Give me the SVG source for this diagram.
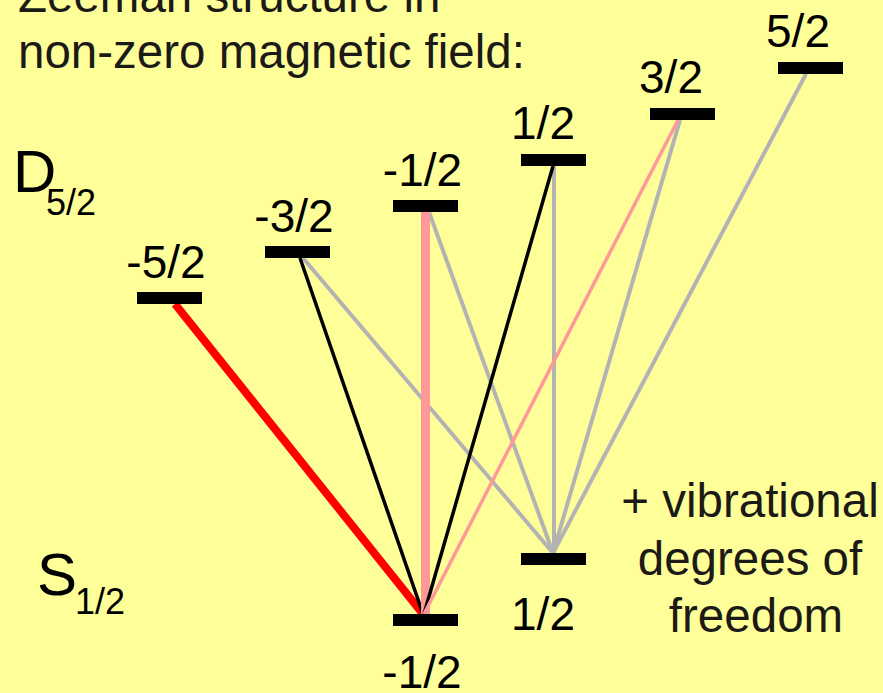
<svg xmlns="http://www.w3.org/2000/svg" width="883" height="693" viewBox="0 0 883 693">
<style>
text{font-family:"Liberation Sans",Arial,sans-serif;fill:#000}
.t{font-size:47.5px;fill:#1c1a17}
.lab{font-size:46px;text-anchor:middle}
.big{font-size:60px}
.sub{font-size:36px}
.bar{fill:#000}
.g{stroke:#B3B3B3;stroke-width:4;fill:none}
.k{stroke:#000;stroke-width:3.5;fill:none}
.p{stroke:#FF9999;fill:none}
</style>
<rect x="0" y="0" width="883" height="693" fill="#FFFF99"/>
<g id="title">
<text class="t" x="18" y="12">Zeeman structure in</text>
<text class="t" x="18" y="68">non-zero magnetic field:</text>
</g>
<g id="connectors">
<line class="g" x1="303" y1="258" x2="553" y2="553"/>
<line class="g" x1="429" y1="212" x2="553" y2="553"/>
<line class="g" x1="554" y1="166" x2="554" y2="553"/>
<line class="g" x1="680" y1="120" x2="553" y2="553"/>
<line class="g" x1="806" y1="74" x2="553" y2="553"/>
<line x1="175" y1="304" x2="423" y2="614" stroke="#FF0000" stroke-width="8"/>
<line class="k" x1="300" y1="258" x2="423" y2="614"/>
<line class="p" x1="425.5" y1="212" x2="425.5" y2="614" stroke-width="9"/>
<line class="k" x1="553" y1="166" x2="424" y2="614"/>
<line class="p" x1="678" y1="120" x2="424" y2="614" stroke-width="3.5"/>
</g>
<g id="D52">
<text class="big" x="13" y="192">D</text>
<text class="sub" x="46" y="215">5/2</text>
</g>
<g id="S12">
<text class="big" x="37" y="595">S</text>
<text class="sub" x="75" y="614">1/2</text>
</g>
<g id="D-m-5-2"><rect class="bar" x="137" y="292" width="65" height="12"/><text class="lab" x="166" y="278">-5/2</text></g>
<g id="D-m-3-2"><rect class="bar" x="265" y="246" width="65" height="12"/><text class="lab" x="294" y="232">-3/2</text></g>
<g id="D-m-1-2"><rect class="bar" x="393" y="200" width="65" height="12"/><text class="lab" x="422.5" y="186">-1/2</text></g>
<g id="D-p-1-2"><rect class="bar" x="521" y="154" width="65" height="12"/><text class="lab" x="543" y="139">1/2</text></g>
<g id="D-p-3-2"><rect class="bar" x="650" y="108" width="65" height="12"/><text class="lab" x="671" y="93">3/2</text></g>
<g id="D-p-5-2"><rect class="bar" x="778" y="62" width="65" height="12"/><text class="lab" x="798" y="47">5/2</text></g>
<g id="S-m-1-2"><rect class="bar" x="393" y="614" width="65" height="12"/><text class="lab" x="422" y="688">-1/2</text></g>
<g id="S-p-1-2"><rect class="bar" x="521" y="553" width="65" height="12"/><text class="lab" x="543" y="630">1/2</text></g>
<g id="note">
<text class="t" x="750" y="517" text-anchor="middle">+ vibrational</text>
<text class="t" x="750" y="575" text-anchor="middle">degrees of</text>
<text class="t" x="756" y="632" text-anchor="middle">freedom</text>
</g>
</svg>
